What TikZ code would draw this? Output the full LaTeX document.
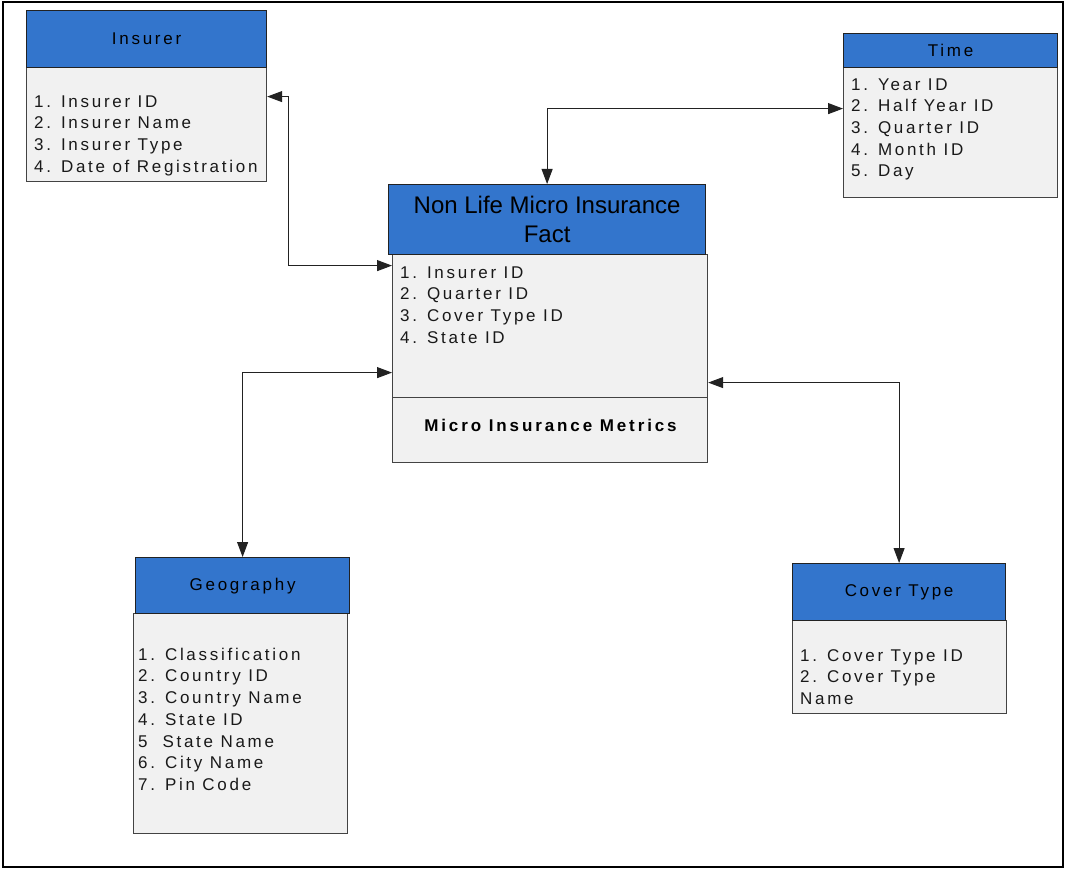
\documentclass[tikz,border=0pt]{standalone}
\usepackage{fontspec}
\setmainfont{Liberation Sans}
\newfontfamily\spacedfont[LetterSpace=16]{Liberation Sans}
\newfontfamily\spacedbold[LetterSpace=17]{Liberation Sans Bold}
\usetikzlibrary{arrows.meta}
\definecolor{hdrblue}{RGB}{51,117,204}
\definecolor{bodygray}{RGB}{241,241,241}
\definecolor{edgeink}{RGB}{34,34,34}
\newcommand{\itemstrut}{\rule{0pt}{13pt}}
\tikzset{
  hdr/.style={draw=edgeink, line width=1.2pt, fill=hdrblue, anchor=north west,
    inner sep=0pt, text=black, font=\spacedfont\fontsize{17}{21.7}\selectfont},
  bodybox/.style={draw=edgeink!85, line width=1.2pt, fill=bodygray,
    anchor=north west, inner sep=0pt},
  items/.style={anchor=north west, inner sep=0pt, align=left, text=black!90,
    font=\spacedfont\fontsize{17}{21.7}\selectfont},
  link/.style={draw=edgeink, line width=1pt,
    {Triangle[length=15pt,width=11pt]}-{Triangle[length=15pt,width=11pt]}},
}
\begin{document}
\begin{tikzpicture}[x=1pt,y=-1pt]
  \useasboundingbox (0,0) rectangle (1065,869);
  \fill[white] (0,0) rectangle (1065,869);
  \draw[line width=2pt] (3,2) rectangle (1063,867);

  % Insurer dimension
  \node[bodybox, minimum width=240pt, minimum height=114pt] (insB) at (26,67) {};
  \node[hdr, minimum width=240pt, minimum height=57pt] (insH) at (26,10) {Insurer};
  \node[items] (insT) at (34,94) {\itemstrut 1. Insurer ID\\2. Insurer Name\\3. Insurer Type\\4. Date of Registration};

  % Time dimension
  \node[bodybox, minimum width=214pt, minimum height=130pt] (timeB) at (843,67) {};
  \node[hdr, minimum width=214pt, minimum height=34pt] (timeH) at (843,33) {Time};
  \node[items] (timeT) at (851,77) {\itemstrut 1. Year ID\\2. Half Year ID\\3. Quarter ID\\4. Month ID\\5. Day};

  % Fact table
  \node[bodybox, minimum width=315pt, minimum height=143pt] (factB) at (392,254) {};
  \node[bodybox, minimum width=315pt, minimum height=65pt] (factM) at (392,397) {};
  \node[hdr, minimum width=317pt, minimum height=70pt, align=center,
        font=\fontsize{24}{29}\selectfont] (factH) at (388,184) {Non Life Micro Insurance\\Fact};
  \node[items] (factT) at (400,265) {\itemstrut 1. Insurer ID\\2. Quarter ID\\3. Cover Type ID\\4. State ID};
  \node[inner sep=0pt, font=\spacedbold\fontsize{17}{21.7}\selectfont] (metT) at (550.5,425) {Micro Insurance Metrics};

  % Geography dimension
  \node[bodybox, minimum width=214pt, minimum height=220pt] (geoB) at (133,613) {};
  \node[hdr, minimum width=214pt, minimum height=56pt] (geoH) at (135,557) {Geography};
  \node[items] (geoT) at (138,647) {\itemstrut 1. Classification\\2. Country ID\\3. Country Name\\4. State ID\\5\ \ State Name\\6. City Name\\7. Pin Code};

  % Cover Type dimension
  \node[bodybox, minimum width=214pt, minimum height=93pt] (covB) at (792,620) {};
  \node[hdr, minimum width=213pt, minimum height=57pt] (covH) at (792,563) {Cover Type};
  \node[items] (covT) at (800,648) {\itemstrut 1. Cover Type ID\\2. Cover Type\\Name};

  % Relationships
  \draw[link] ([yshift=28pt]insB.east) -- ++(21,0) |- ([yshift=60.5pt]factB.west);
  \draw[link] (factH.north) |- ([yshift=24pt]timeB.west);
  \draw[link] (geoH.north) |- ([yshift=-46.5pt]factB.west);
  \draw[link] (covH.north) |- ([yshift=-56.5pt]factB.east);
\end{tikzpicture}
\end{document}
